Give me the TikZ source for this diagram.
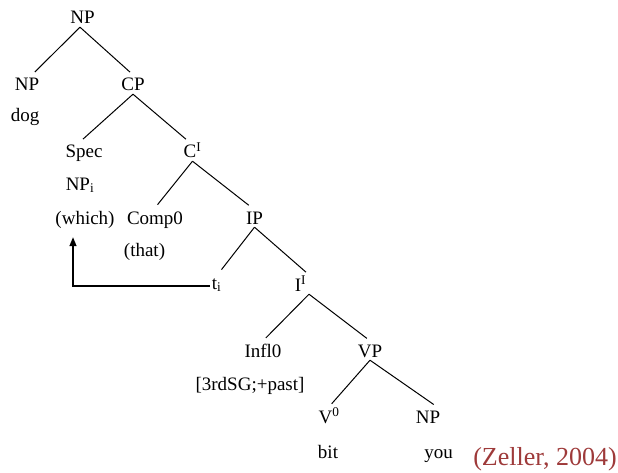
\documentclass[tikz,border=0pt]{standalone}
\usepackage{fontspec}
\setmainfont{Liberation Serif}
\usetikzlibrary{arrows.meta}
\definecolor{citered}{RGB}{158,58,58}

\begin{document}
\begin{tikzpicture}[
  x=1pt, y=-1pt,
  tnode/.style={anchor=base,inner xsep=2pt,inner ysep=3pt,text height=13pt,text depth=0pt,font=\fontsize{19}{22}\selectfont},
  branch/.style={line width=1pt,shorten >=4pt}
]
  \useasboundingbox (0,0) rectangle (618,473);

  % categories
  \node[tnode] (np0) at (82.5,24) {NP};
  \node[tnode] (np1) at (27,91) {NP};
  \node[tnode] (cp) at (133,91) {CP};
  \node[tnode] (spec) at (84,158) {Spec};
  \node[tnode] (cbar) at (192.5,158) {C\textsuperscript{I}};
  \node[tnode] (npi) at (80,190) {NP\textsubscript{i}};
  \node[tnode] (comp) at (155,224) {Comp0};
  \node[tnode] (ip) at (254.5,224) {IP};
  \node[tnode] (ti) at (216.5,289) {t\textsubscript{i}};
  \node[tnode] (ibar) at (300.5,291) {I\textsuperscript{I}};
  \node[tnode] (infl) at (263,357) {Infl0};
  \node[tnode] (vp) at (370,357) {VP};
  \node[tnode] (v0) at (329,423) {V\textsuperscript{0}};
  \node[tnode] (np2) at (428,423) {NP};

  % words
  \node[tnode] (dog) at (25,122) {dog};
  \node[tnode] (which) at (85,224) {(which)};
  \node[tnode] (that) at (144.5,256) {(that)};
  \node[tnode] (feat) at (250,390) {[3rdSG;+past]};
  \node[tnode] (bit) at (328,458) {bit};
  \node[tnode] (you) at (438.5,458) {you};

  % source
  \node[anchor=base,inner sep=0pt,text=citered,font=\fontsize{26}{30}\selectfont] (cite) at (545,465) {(Zeller, 2004)};

  % branches
  \draw[branch] ([xshift=-2.5pt]np0.south) -- ([xshift=5pt]np1.north);
  \draw[branch] ([xshift=-2.5pt]np0.south) -- (cp.north);
  \draw[branch] (cp.south) -- ([xshift=-4pt]spec.north);
  \draw[branch] (cp.south) -- ([xshift=-3.5pt]cbar.north);
  \draw[branch] (cbar.south) -- (comp.north);
  \draw[branch] (cbar.south) -- ([xshift=-2.5pt]ip.north);
  \draw[branch] (ip.south) -- ([xshift=2.5pt]ti.north);
  \draw[branch] (ip.south) -- ([xshift=8.5pt]ibar.north);
  \draw[branch] ([xshift=8.5pt]ibar.south) -- (infl.north);
  \draw[branch] ([xshift=8.5pt]ibar.south) -- (vp.north);
  \draw[branch] (vp.south) -- (v0.north);
  \draw[branch] (vp.south) -- ([xshift=9pt]np2.north);

  % movement
  \draw[line width=1.3pt,-{Triangle[length=9pt,width=7pt]}] ([yshift=3pt]ti.base west) -| ([xshift=-12pt,yshift=-10pt]which.south);

\end{tikzpicture}
\end{document}
